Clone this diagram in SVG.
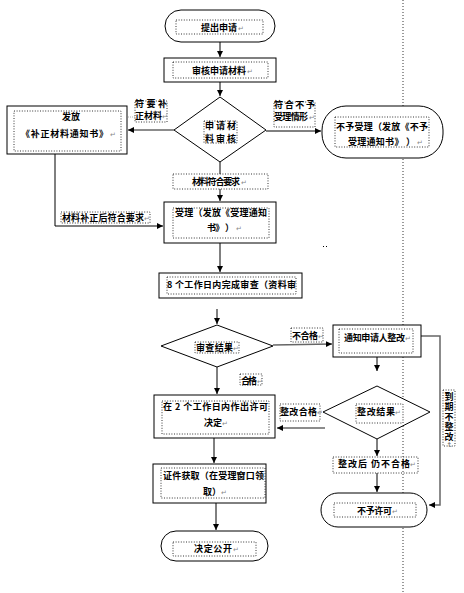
<svg xmlns="http://www.w3.org/2000/svg" width="464" height="593" viewBox="0 0 464 593">
<style>
.s{fill:#fff;stroke:#000;stroke-width:1}
.d{fill:none;stroke:#000;stroke-width:0.8;stroke-dasharray:1,1.6}
.t{font-family:"Noto Sans CJK SC","Noto Sans CJK JP",sans-serif;font-size:9px;font-weight:bold;fill:#000}
.r{font-family:"DejaVu Sans",sans-serif;font-size:7px;fill:#888}
.c{fill:none;stroke:#000;stroke-width:1}
.g{fill:none;stroke:#666;stroke-width:1.5}
</style>
<defs>
<marker id="a" markerUnits="userSpaceOnUse" markerWidth="7" markerHeight="7" refX="6" refY="3" orient="auto">
<path d="M0,0 L6,3 L0,6 z" fill="#000"/>
</marker>
</defs>
<line x1="403" y1="0" x2="403" y2="593" stroke="#000" stroke-width="0.8" stroke-dasharray="1,2"/>
<rect x="323" y="246" width="1" height="1" fill="#000"/><rect x="326" y="246" width="1" height="1" fill="#000"/>
<g id="connectors">
<line class="c" x1="220" y1="42" x2="220" y2="57" marker-end="url(#a)"/>
<line class="c" x1="220" y1="82" x2="220" y2="96" marker-end="url(#a)"/>
<line class="c" x1="220" y1="162" x2="220" y2="174"/>
<line class="c" x1="220" y1="189" x2="220" y2="201" marker-end="url(#a)"/>
<line class="g" x1="174" y1="130" x2="128" y2="130" marker-end="url(#a)"/>
<polyline class="c" points="55,154 55,226 163,226" marker-end="url(#a)"/>
<line class="c" x1="266" y1="131" x2="321" y2="131" marker-end="url(#a)"/>
<line class="c" x1="220" y1="243" x2="220" y2="272" marker-end="url(#a)"/>
<line class="c" x1="217" y1="309" x2="217" y2="324" marker-end="url(#a)"/>
<line class="g" x1="273" y1="345" x2="332" y2="344" marker-end="url(#a)"/>
<line class="c" x1="217" y1="367" x2="217" y2="394" marker-end="url(#a)"/>
<line class="c" x1="377" y1="357" x2="377" y2="371" marker-end="url(#a)"/>
<polyline class="g" points="421,336 440,336 440,505 429,505" marker-end="url(#a)"/>
<line class="g" x1="325" y1="428" x2="277" y2="428" marker-end="url(#a)"/>
<line class="c" x1="377" y1="439" x2="377" y2="456" marker-end="url(#a)"/>
<line class="c" x1="377" y1="473" x2="377" y2="492" marker-end="url(#a)"/>
<line class="c" x1="214" y1="438" x2="214" y2="463" marker-end="url(#a)"/>
<line class="c" x1="216" y1="503" x2="216" y2="530" marker-end="url(#a)"/>
<line x1="80" y1="117" x2="135" y2="117" stroke="#999" stroke-width="0.8" stroke-dasharray="1,1"/>
</g>
<g id="n1">
<rect class="s" x="165" y="10" width="110" height="32" rx="16"/>
<rect class="d" x="176" y="20" width="87" height="14"/>
<text class="t" x="201" y="31" textLength="36" lengthAdjust="spacing">提出申请</text><text class="r" x="238" y="31">↵</text>
</g>
<g id="n2">
<rect class="s" x="164" y="58" width="112" height="24"/>
<rect class="d" x="173" y="62" width="95" height="16"/>
<text class="t" x="192" y="74" textLength="54" lengthAdjust="spacing">审核申请材料</text><text class="r" x="247" y="74">↵</text>
</g>
<g id="n3">
<polygon class="s" points="220,97 266,130 220,162 174,130"/>
<rect class="d" x="204" y="121" width="33" height="22"/>
<text class="t" x="205" y="129" textLength="31" lengthAdjust="spacing">申请材</text>
<text class="t" x="205" y="142" textLength="31" lengthAdjust="spacing">料审核</text>
</g>
<g id="l1">
<rect class="d" x="173" y="174" width="95" height="15"/>
<text class="t" x="192" y="185" textLength="48" lengthAdjust="spacing">材料符合要求</text><text class="r" x="241" y="185">↵</text>
</g>
<g id="l2">
<rect class="d" x="135" y="101" width="32" height="21"/>
<text class="t" x="135" y="107" textLength="32" lengthAdjust="spacing">符要补</text>
<text class="t" x="135" y="119" textLength="27" lengthAdjust="spacing">正材料</text><text class="r" x="162" y="119">↵</text>
</g>
<g id="n4">
<rect class="s" x="7" y="106" width="120" height="48"/>
<rect class="d" x="14" y="111" width="107" height="40"/>
<text class="t" x="62" y="120" textLength="18" lengthAdjust="spacing">发放</text>
<text class="t" x="21" y="137" textLength="87" lengthAdjust="spacing">《补正材料通知书》</text><text class="r" x="110" y="137">↵</text>
</g>
<g id="l3">
<rect class="d" x="274" y="102" width="41" height="25"/>
<text class="t" x="274" y="108" textLength="41" lengthAdjust="spacing">符合不予</text>
<text class="t" x="274" y="120" textLength="34" lengthAdjust="spacing">受理情形</text><text class="r" x="309" y="120">↵</text>
</g>
<g id="n5">
<rect class="s" x="322" y="106" width="121" height="52" rx="24"/>
<rect class="d" x="335" y="117" width="94" height="30"/>
<text class="t" x="336" y="130" textLength="92" lengthAdjust="spacing">不予受理（发放《不予</text>
<text class="t" x="348" y="145" textLength="67" lengthAdjust="spacing">受理通知书》 ）</text><text class="r" x="417" y="145">↵</text>
</g>
<g id="l4">
<rect class="d" x="61" y="212" width="89" height="11"/>
<text class="t" x="62" y="221" textLength="82" lengthAdjust="spacing">材料补正后符合要求</text><text class="r" x="144" y="221">↵</text>
</g>
<g id="n6">
<rect class="s" x="164" y="202" width="112" height="41"/>
<rect class="d" x="173" y="208" width="96" height="30"/>
<text class="t" x="175" y="216" textLength="92" lengthAdjust="spacing">受理（发放《受理通知</text>
<text class="t" x="207" y="231" textLength="27" lengthAdjust="spacing">书》 ）</text><text class="r" x="236" y="231">↵</text>
</g>
<g id="n7">
<rect class="s" x="159" y="273" width="143" height="25"/>
<rect class="d" x="167" y="277" width="129" height="17"/>
<text class="t" x="167" y="288" textLength="129" lengthAdjust="spacing">8 个工作日内完成审查（资料审</text>
</g>
<g id="n8">
<polygon class="s" points="217,325 273,346 217,367 161,346"/>
<rect class="d" x="195" y="342" width="44" height="11"/>
<text class="t" x="196" y="351" textLength="37" lengthAdjust="spacing">审查结果</text><text class="r" x="233" y="351">↵</text>
</g>
<g id="l5">
<rect class="d" x="291" y="328" width="32" height="14"/>
<text class="t" x="292" y="339" textLength="26" lengthAdjust="spacing">不合格</text><text class="r" x="318" y="339">↵</text>
</g>
<g id="l6">
<rect class="d" x="240" y="374" width="22" height="11"/>
<text class="t" x="241" y="384" textLength="16" lengthAdjust="spacing">合格</text><text class="r" x="257" y="384">↵</text>
</g>
<g id="n9">
<rect class="s" x="333" y="325" width="88" height="32"/>
<rect class="d" x="339" y="329" width="74" height="24"/>
<text class="t" x="344" y="341" textLength="61" lengthAdjust="spacing">通知申请人整改</text><text class="r" x="405" y="341">↵</text>
</g>
<g id="n10">
<polygon class="s" points="377,386 430,412 377,439 323,412"/>
<rect class="d" x="356" y="404" width="47" height="19"/>
<text class="t" x="357" y="415" textLength="38" lengthAdjust="spacing">整改结果</text><text class="r" x="395" y="415">↵</text>
</g>
<g id="l7">
<rect class="d" x="280" y="404" width="40" height="17"/>
<text class="t" x="280" y="415" textLength="37" lengthAdjust="spacing">整改合格</text><text class="r" x="317" y="415">↵</text>
</g>
<g id="l8">
<rect class="d" x="443" y="390" width="12" height="56"/>
<text class="t" x="449" y="392" writing-mode="tb" letter-spacing="1">到期不整改<tspan class="r">↵</tspan></text>
</g>
<g id="n11">
<rect class="s" x="154" y="395" width="121" height="43"/>
<rect class="d" x="162" y="401" width="107" height="33"/>
<text class="t" x="163" y="410" textLength="105" lengthAdjust="spacing">在 2 个工作日内作出许可</text>
<text class="t" x="204" y="426" textLength="18" lengthAdjust="spacing">决定</text><text class="r" x="222" y="426">↵</text>
</g>
<g id="l9">
<rect class="d" x="333" y="457" width="85" height="16"/>
<text class="t" x="338" y="467" textLength="72" lengthAdjust="spacing">整改后  仍不合格</text><text class="r" x="410" y="467">↵</text>
</g>
<g id="n12">
<rect class="s" x="321" y="493" width="106" height="34" rx="17"/>
<rect class="d" x="334" y="503" width="82" height="14"/>
<text class="t" x="357" y="514" textLength="35" lengthAdjust="spacing">不予许可</text><text class="r" x="392" y="514">↵</text>
</g>
<g id="n13">
<rect class="s" x="153" y="464" width="113" height="39"/>
<rect class="d" x="161" y="468" width="104" height="30"/>
<text class="t" x="163" y="479" textLength="101" lengthAdjust="spacing">证件获取（在受理窗口领</text>
<text class="t" x="203" y="495" textLength="18" lengthAdjust="spacing">取）</text><text class="r" x="221" y="495">↵</text>
</g>
<g id="n14">
<rect class="s" x="161" y="531" width="107" height="30" rx="15"/>
<rect class="d" x="173" y="542" width="83" height="14"/>
<text class="t" x="194" y="552" textLength="38" lengthAdjust="spacing">决定公开</text><text class="r" x="233" y="552">↵</text>
</g>
</svg>
